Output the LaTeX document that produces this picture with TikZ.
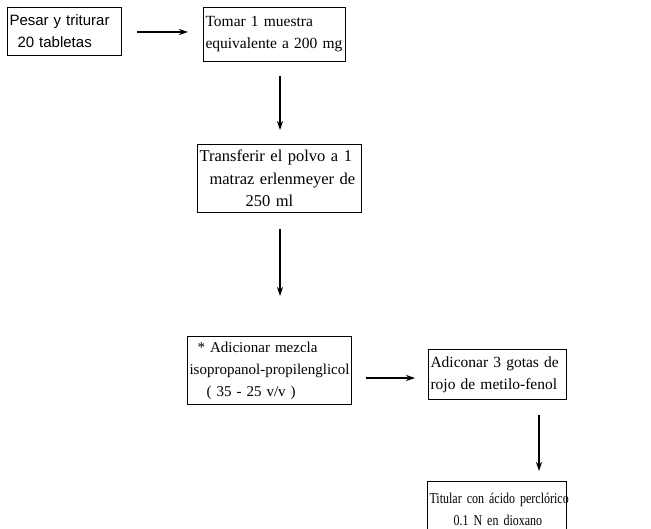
\documentclass[tikz,border=0pt]{standalone}
\usepackage{fontspec}
\setmainfont{Liberation Serif}[WordSpace=0.8]
\newfontfamily\boxsans{Liberation Sans}[WordSpace=0.8]
\newfontfamily\narrowserif{Liberation Serif}[FakeStretch=0.8, WordSpace=0.8]
\usetikzlibrary{arrows.meta}
\begin{document}
\begin{tikzpicture}[x=1pt,y=-1pt,
  stepbox/.style={draw, line width=1.1pt, rectangle, anchor=north west,
    inner xsep=2pt, inner ysep=0pt, align=left,
    font=\fontsize{15.5}{22}\selectfont},
  flow/.style={line width=1.1pt, -{Stealth[length=9pt,width=6pt]}}]
\useasboundingbox (0,0) rectangle (651,529);
\clip (0,0) rectangle (651,529);

% process boxes
\node[stepbox, minimum width=114pt, minimum height=48pt, text width=110pt,
      font=\boxsans\fontsize{15}{22}\selectfont] (b1) at (7,7)
  {\mbox{Pesar y triturar}\\\hspace*{8pt}\mbox{20 tabletas}};
\node[stepbox, minimum width=142pt, minimum height=54pt, text width=138pt] (b2) at (203,7)
  {\mbox{Tomar 1 muestra}\\\mbox{equivalente a 200 mg}};
\node[stepbox, minimum width=164pt, minimum height=68pt, text width=160pt,
      font=\fontsize{16.5}{22.5}\selectfont] (b3) at (197,144)
  {\mbox{Transferir el polvo a 1}\\\hspace*{10pt}\mbox{matraz erlenmeyer de}\\\hspace*{46pt}\mbox{250 ml}};
\node[stepbox, minimum width=164pt, minimum height=68pt, text width=160pt,
      font=\fontsize{15}{22}\selectfont] (b4) at (187,336)
  {\hspace*{8pt}\mbox{* Adicionar mezcla}\\\mbox{isopropanol-propilenglicol}\\\hspace*{17pt}\mbox{( 35 - 25 v/v )}};
\node[stepbox, minimum width=138pt, minimum height=50pt, text width=134pt] (b5) at (428,349)
  {\mbox{Adiconar 3 gotas de}\\\mbox{rojo de metilo-fenol}};
\node[stepbox, minimum width=139pt, minimum height=56pt, text width=135pt,
      font=\narrowserif\fontsize{15}{22}\selectfont] (b6) at (427,481)
  {\mbox{Titular con ácido perclórico}\\\hspace*{24pt}\mbox{0.1 N en dioxano}};

% connector anchors
\coordinate (r1) at (0,32);
\coordinate (d2) at (280,0);
\coordinate (e3) at (280,296);
\coordinate (r4) at (0,378);
\coordinate (d5) at (539,0);

% connectors
\draw[flow, shorten <=15pt, shorten >=15pt] (b1.east |- r1) -- (b2.west |- r1);
\draw[flow, shorten <=14pt, shorten >=14pt] (b2.south -| d2) -- (b3.north -| d2);
\draw[flow, shorten <=16pt] (b3.south -| e3) -- (e3);
\draw[flow, shorten <=14pt, shorten >=13pt] (b4.east |- r4) -- (b5.west |- r4);
\draw[flow, shorten <=15pt, shorten >=10pt] (b5.south -| d5) -- (b6.north -| d5);
\end{tikzpicture}
\end{document}
